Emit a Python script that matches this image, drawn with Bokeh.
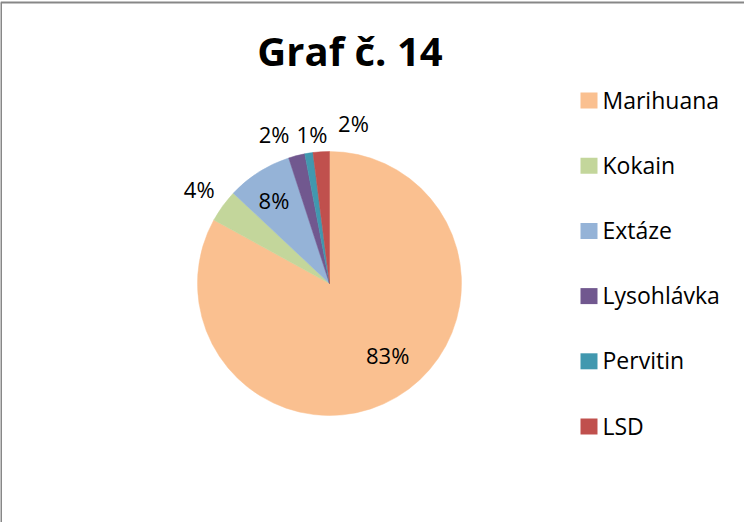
import math
from bokeh.plotting import figure
from bokeh.models import Range1d, ColumnDataSource
from bokeh.core.properties import value
from bokeh.embed import file_html
from bokeh.resources import INLINE

# ---- data ----
categories = ["Marihuana", "Kokain", "Extáze", "Lysohlávka", "Pervitin", "LSD"]
shares = [83, 4, 8, 2, 1, 2]
labels = ["83%", "4%", "8%", "2%", "1%", "2%"]
colors = ["#FAC090", "#C3D69B", "#95B3D7", "#71588F", "#4198AF", "#C0504D"]
title_text = "Graf č. 14"

# ---- style / layout ----
W, H = 744, 522
CX, CY, R = 329, 239, 132
label_rfac = [0.70, 1.22, 0.76, 1.21, 1.14, 1.23]
label_nudge = [8.4, 0.0, 1.2, 5.9, -2.3, -12.1]
FONT = "Open Sans"
FRAME = "#878787"

p = figure(width=W, height=H, output_backend="svg", toolbar_location=None,
           x_range=Range1d(0, W), y_range=Range1d(0, H),
           min_border=0, min_border_left=0, min_border_right=0,
           min_border_top=0, min_border_bottom=0)
p.axis.visible = False
p.grid.visible = False
p.outline_line_color = None
p.background_fill_color = "white"
p.border_fill_color = "white"

total = float(sum(shares))
starts, ends, lx, ly = [], [], [], []
cum = 0.0
for i, s in enumerate(shares):
    c0 = cum / total
    cum += s
    c1 = cum / total
    # clockwise from 12 o'clock
    a_start = math.radians(90 - 360 * c1)
    a_end = math.radians(90 - 360 * c0)
    starts.append(a_start)
    ends.append(a_end)
    mid = math.radians(90 - 360 * (c0 + c1) / 2 + label_nudge[i])
    lx.append(CX + R * label_rfac[i] * math.cos(mid))
    ly.append(CY + R * label_rfac[i] * math.sin(mid))

src = ColumnDataSource(dict(start=starts, end=ends, color=colors, cat=categories,
                            lx=lx, ly=ly, lab=labels))
p.wedge(x=CX, y=CY, radius=R, start_angle="start", end_angle="end",
        fill_color="color", line_color="color", line_width=0.5, source=src)

p.text(x="lx", y="ly", text="lab", source=src, text_font=value(FONT),
       text_font_size="22px", text_color="#000000", text_align="center",
       text_baseline="middle")

# title
p.text(x=[349.5], y=[472], text=[title_text], text_font=value(FONT),
       text_font_size="40px", text_font_style="bold", text_color="#000000",
       text_align="center", text_baseline="alphabetic")

# legend
n = len(categories)
leg_y = [422 - i * 65.2 for i in range(n)]
p.rect(x=[588.5] * n, y=leg_y, width=17, height=16, fill_color=colors, line_color=None)
p.text(x=[602] * n, y=[y + 1 for y in leg_y], text=categories, text_font=value(FONT),
       text_font_size="23px", text_color="#000000", text_align="left",
       text_baseline="middle")

# frame lines (left and top)
p.line(x=[0.5, 0.5], y=[0, 520], line_color=FRAME, line_width=2)
p.line(x=[0, W], y=[520, 520], line_color=FRAME, line_width=2)

open("out.html", "w").write(file_html(p, INLINE))
